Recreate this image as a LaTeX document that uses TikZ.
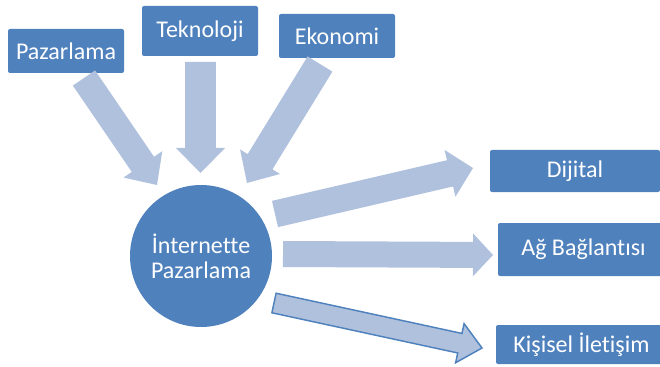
\documentclass[tikz,border=0pt]{standalone}
\usepackage{fontspec}
\setmainfont{Carlito}[Ligatures=NoCommon]
\usepackage{tikz}
\usetikzlibrary{calc}
\definecolor{boxblue}{HTML}{4F81BD}
\definecolor{arrblue}{HTML}{B0C1DE}
\tikzset{
  box/.style={rectangle,rounded corners=1.5pt,fill=boxblue,text=white,
    inner sep=0pt,font=\fontsize{18}{20}\selectfont},
  cbox/.style={circle,fill=boxblue,text=white,inner sep=0pt,align=center,
    minimum size=106.5pt,font=\fontsize{18}{18.75}\selectfont},
  blk/.style={fill=arrblue},
}
% block arrow: [opts]{tail}{tip}{half shaft}{half head}{head length}
\newcommand{\blkarrow}[6][]{%
  \coordinate (#2-#3) at ($(#3)!#6!(#2)$);
  \path[blk,#1] ($(#2)!#4!90:(#3)$) -- ($(#2-#3)!#4!-90:(#2)$)
    -- ($(#2-#3)!#5!-90:(#2)$) -- (#3) -- ($(#2-#3)!#5!90:(#2)$)
    -- ($(#2-#3)!#4!90:(#2)$) -- ($(#2)!#4!-90:(#3)$) -- cycle;}

\begin{document}
\begin{tikzpicture}[x=0.75pt,y=-0.75pt]
\useasboundingbox (0,0) rectangle (660,367);
\clip (0,0) rectangle (660,367);

% sources
\node[box,minimum width=87pt,minimum height=33pt] (pz) at (66,51) {Pazarlama};
\node[box,minimum width=87pt,minimum height=37.5pt] (tk) at (200,31) {Teknoloji};
\node[box,minimum width=87pt,minimum height=33pt] (ek) at (337,36) {Ekonomi};

% centre
\node[cbox] (ip) at (201,256) {İnternette\\Pazarlama};

% targets
\node[box,minimum width=127.5pt,minimum height=31.5pt] (dj) at (575,171) {Dijital};
\node[box,minimum width=128.25pt,minimum height=39.75pt] (ag) at (583.5,249.5) {Ağ Bağlantısı};
\node[box,minimum width=128.25pt,minimum height=29.25pt] (ks) at (581.5,344.5) {Kişisel İletişim};

% arrow ends
\coordinate (pz-a) at (84,78);   \coordinate (pz-b) at (157,185);
\coordinate (tk-a) at (200.5,62); \coordinate (tk-b) at (200.5,173);
\coordinate (ek-a) at (320,64);  \coordinate (ek-b) at (247,183);
\coordinate (dj-a) at (275,214); \coordinate (dj-b) at (473,168);
\coordinate (ag-a) at (283,254); \coordinate (ag-b) at (493,255);
\coordinate (ks-a) at (274,303); \coordinate (ks-b) at (482,348);

\blkarrow{pz-a}{pz-b}{10.1pt}{17.6pt}{18.75pt}
\blkarrow{tk-a}{tk-b}{11.6pt}{18.4pt}{18.75pt}
\blkarrow{ek-a}{ek-b}{10.9pt}{17.6pt}{18.75pt}
\blkarrow{dj-a}{dj-b}{10.1pt}{18pt}{17.7pt}
\blkarrow{ag-a}{ag-b}{9.75pt}{16.1pt}{15pt}
\blkarrow[draw=boxblue,line width=1.1pt]{ks-a}{ks-b}{7.5pt}{15pt}{17pt}
\end{tikzpicture}
\end{document}
